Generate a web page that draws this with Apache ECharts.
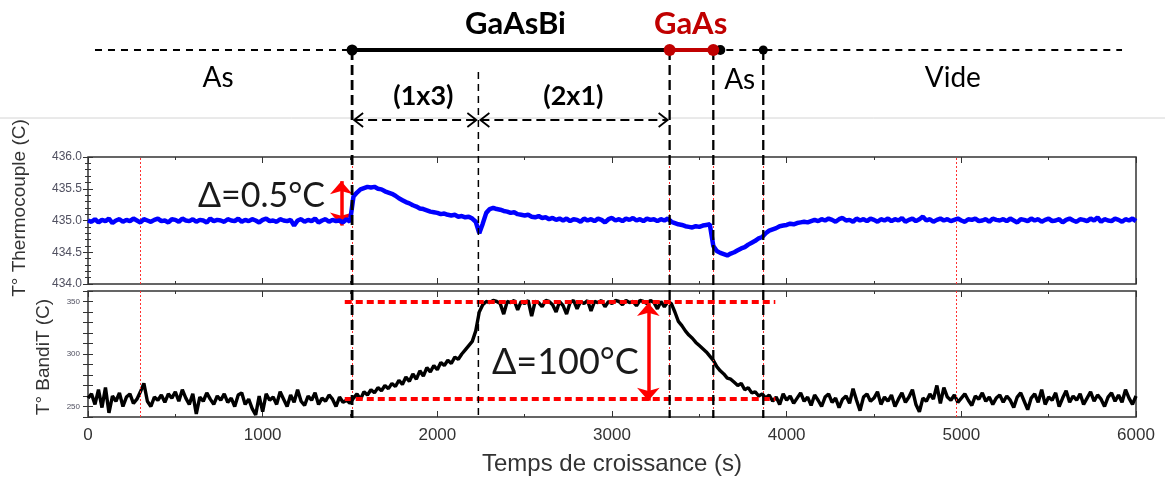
<!DOCTYPE html>
<html><head><meta charset="utf-8">
<script src="https://cdn.jsdelivr.net/npm/echarts@6/dist/echarts.min.js"></script>
<style>html,body{margin:0;padding:0;background:#fff}#c{width:1165px;height:477px}</style>
</head><body><div id="c"></div>
<script>
// ---------- data ----------
const TIME_STEP = 20; // s between samples, first sample at t = 0
const thermocouple = [
435.00,434.98,435.02,434.97,435.01,434.99,435.03,434.96,435.00,435.02,
434.98,435.01,434.99,435.03,435.00,434.97,435.02,435.00,434.98,435.01,
435.03,434.99,435.00,434.97,435.02,435.01,434.98,435.03,435.00,434.99,
435.02,434.98,435.01,435.00,434.97,435.03,434.99,435.01,435.00,434.98,
435.02,435.00,434.99,435.03,434.98,435.01,434.99,435.02,435.00,434.97,
435.01,435.03,434.99,435.00,434.98,435.02,435.00,434.99,435.01,434.92,
435.00,435.02,434.98,435.01,434.99,435.03,434.97,435.00,435.02,434.98,
435.01,434.99,435.00,434.97,435.02,434.98,
435.38,435.44,435.49,435.51,435.53,435.52,435.53,435.50,435.49,435.46,
435.44,435.42,435.39,435.35,435.32,435.29,435.27,435.24,435.22,435.19,
435.18,435.16,435.14,435.13,435.12,435.10,435.11,435.09,435.08,435.09,
435.06,435.07,435.05,435.06,435.03,434.98,
434.80,434.95,435.12,435.18,435.20,435.18,435.17,435.15,435.14,435.12,
435.13,435.10,435.09,435.08,435.09,435.06,435.05,435.07,435.04,435.05,
435.02,435.04,435.01,435.03,435.00,
435.03,434.99,435.02,435.01,434.98,435.03,435.00,435.02,434.99,435.03,
435.01,434.97,435.02,435.04,435.00,435.02,434.99,435.03,435.01,435.04,
435.00,435.02,434.99,435.03,435.01,435.02,434.99,435.02,435.00,435.03,
434.98,434.96,434.94,434.93,434.91,434.90,434.89,434.91,434.90,434.92,
434.93,434.94,
434.60,434.52,434.49,434.47,434.45,434.48,434.50,434.53,434.56,434.58,
434.62,434.65,434.68,434.72,434.74,
434.80,434.84,434.86,434.88,434.91,434.92,434.93,434.95,434.94,434.96,
434.97,434.98,434.97,434.99,435.01,434.99,435.02,
435.00,435.03,435.01,434.98,435.02,435.04,435.00,435.01,434.98,435.03,
435.00,435.02,434.99,435.03,435.01,434.98,435.02,435.00,435.03,434.99,
435.02,435.00,435.04,434.98,435.01,435.03,434.99,435.02,435.06,435.00,
435.02,434.98,435.01,435.03,435.00,435.02,434.99,435.01,435.03,435.00,
434.98,435.02,435.01,435.03,434.99,435.00,435.02,434.98,435.03,435.01,
435.00,435.02,434.99,435.03,435.00,434.97,435.02,435.01,434.99,435.03,
435.00,435.02,434.98,435.01,435.03,434.99,435.00,435.02,434.97,435.01,
435.03,435.00,434.98,435.02,435.01,434.99,435.03,435.00,435.05,434.98,
435.02,435.00,434.99,435.03,435.01,434.98,435.02,435.00,435.03,434.99
];
const bandit = [
258,262,252,266,249,268,244,260,255,263,
250,259,262,253,257,264,272,255,250,259,
256,261,254,262,258,264,255,266,258,252,
262,243,259,255,263,257,252,260,256,262,
254,258,250,261,263,252,257,248,242,260,
245,262,256,259,252,264,257,250,261,254,
266,255,251,260,256,263,252,258,255,261,
257,250,259,254,256,253,
258,262,257,264,261,266,263,268,265,270,
267,272,269,275,271,278,274,281,276,284,
279,287,283,289,285,292,289,294,291,297,
295,300,304,308,312,322,340,
347,350,349,351,350,348,338,350,349,351,
342,350,348,351,336,350,349,345,351,350,
347,340,350,346,338,349,351,343,350,348,
351,341,350,349,351,345,350,348,351,350,
347,351,349,350,346,351,350,348,351,349,
343,350,345,350,
348,340,331,327,322,318,315,311,308,305,
302,298,294,288,284,281,277,276,273,270,
272,266,268,263,264,260,262,258,261,
255,259,252,262,256,260,253,258,263,255,
259,251,261,256,250,259,262,254,258,249,
257,260,253,267,256,246,259,262,255,258,
264,252,259,255,261,250,257,263,254,259,
266,252,245,258,255,262,257,270,253,268,
259,256,261,254,258,262,256,251,260,257,
263,255,259,252,258,261,254,260,256,249,
259,263,255,247,258,262,254,266,252,259,
256,263,250,258,265,254,260,256,262,252,
258,264,255,261,257,250,259,263,255,261,
254,266,258,252,260
];
const banditTicks = [250, 300, 350];
const phaseTimes = [1512, 2235, 3330, 3580, 3866];   // phase boundaries (s)
const redMarkerTimes = [300, 1512, 3330, 3580, 3866, 4970];
const timelineSpan = [40, 5920];
const deltaThermo = [435.62, 434.92];  // Δ=0.5°C arrow ends
const deltaBandit = [350, 257];        // Δ=100°C reference levels
const deltaBanditArrow = [348.5, 255.5];

// ---------- chart ----------
const chart = echarts.init(document.getElementById('c'), null, {renderer: 'canvas'});
const thermoData = thermocouple.map((v, i) => [i * TIME_STEP, v]);
const banditData = bandit.map((v, i) => [i * TIME_STEP, v]);
const AXF = 'Liberation Sans, Arial, sans-serif';
const ANF = 'Lato, Open Sans, sans-serif';

function xAx(grid, pos, labels) {
  return {
    type: 'value', gridIndex: grid, position: pos, min: 0, max: 6000, interval: 1000,
    axisLine: {show: false},
    axisTick: {show: true, inside: true, length: 6, lineStyle: {color: '#333'}},
    minorTick: {show: true, splitNumber: 2, length: 3, lineStyle: {color: '#333'}},
    splitLine: {show: false},
    axisLabel: labels ? {show: true, fontSize: 17, color: '#333', fontFamily: AXF, margin: 10,
      formatter: v => String(v)} : {show: false}
  };
}
function yAx(grid, pos, min, max, interval, labelOpt, minorSplit) {
  return {
    type: 'value', gridIndex: grid, position: pos, min: min, max: max, interval: interval,
    axisLine: {show: false},
    axisTick: {show: true, inside: true, length: 5, lineStyle: {color: '#333'}},
    minorTick: {show: minorSplit > 0, splitNumber: minorSplit || 5, length: 3, lineStyle: {color: '#333'}},
    splitLine: {show: false},
    axisLabel: labelOpt || {show: false}
  };
}

const redVert = redMarkerTimes.map(t => ({xAxis: t}));

chart.setOption({
  animation: false,
  backgroundColor: '#fff',
  grid: [
    {left: 88, right: 29, top: 157, height: 127, show: true, borderColor: '#333', borderWidth: 1.5, backgroundColor: 'transparent'},
    {left: 88, right: 29, top: 291, height: 127, show: true, borderColor: '#333', borderWidth: 1.5, backgroundColor: 'transparent'}
  ],
  xAxis: [xAx(0, 'bottom', false), xAx(0, 'top', false),
    Object.assign(xAx(1, 'bottom', true), {
      name: 'Temps de croissance (s)', nameLocation: 'middle', nameGap: 35,
      nameTextStyle: {fontSize: 24, color: '#333', fontFamily: AXF}
    }),
    xAx(1, 'top', false)],
  yAxis: [
    yAx(0, 'left', 434, 436, 0.5, {show: true, fontSize: 12, color: '#505060', fontFamily: AXF, margin: 6,
      formatter: v => v.toFixed(1)}, 5),
    yAx(0, 'right', 434, 436, 0.5, null, 5),
    yAx(1, 'left', 240, 360, 10, {show: true, fontSize: 8, color: '#505060', fontFamily: AXF, margin: 8,
      formatter: v => banditTicks.includes(v) ? String(v) : ''}, 0),
    yAx(1, 'right', 240, 360, 10, null, 0)
  ],
  series: [
    {
      type: 'line', name: 'thermocouple', xAxisIndex: 0, yAxisIndex: 0, data: thermoData,
      showSymbol: false, symbol: 'none', z: 3,
      lineStyle: {color: '#0000ff', width: 4.5},
      markLine: {
        silent: true, symbol: 'none', label: {show: false}, z: 2,
        lineStyle: {color: '#ff3030', width: 1, type: [2, 2]},
        data: redVert.concat([[
          {coord: [1450, deltaThermo[0]], symbol: 'arrow', symbolSize: [17, 13],
            lineStyle: {color: '#ff0000', width: 3.5, type: 'solid'}},
          {coord: [1450, deltaThermo[1]], symbol: 'arrow', symbolSize: [17, 13]}
        ]])
      }
    },
    {
      type: 'line', name: 'bandit', xAxisIndex: 2, yAxisIndex: 2, data: banditData,
      showSymbol: false, symbol: 'none', z: 3,
      lineStyle: {color: '#000', width: 3.4},
      markLine: {
        silent: true, symbol: 'none', label: {show: false}, z: 4,
        lineStyle: {color: '#ff3030', width: 1, type: [2, 2]},
        data: redVert.concat([
          [{coord: [1470, deltaBandit[0]], lineStyle: {color: '#ff0000', width: 4, type: [7, 4]}}, {coord: [3935, deltaBandit[0]]}],
          [{coord: [1470, deltaBandit[1]], lineStyle: {color: '#ff0000', width: 4, type: [7, 4]}}, {coord: [3935, deltaBandit[1]]}],
          [{coord: [3208, deltaBanditArrow[0]], symbol: 'arrow', symbolSize: [17, 13],
            lineStyle: {color: '#ff0000', width: 3.5, type: 'solid'}},
           {coord: [3208, deltaBanditArrow[1]], symbol: 'arrow', symbolSize: [17, 13]}]
        ])
      }
    }
  ]
});

// ---------- annotations (positioned through the x scale) ----------
const X = t => chart.convertToPixel({xAxisIndex: 0}, t);
const Yt = v => chart.convertToPixel({yAxisIndex: 0}, v);
const Yb = v => chart.convertToPixel({yAxisIndex: 2}, v);
const TL_Y = 50, ARR_Y = 120, BOTTOM = 418;
const g = [];
const line = (x1, y1, x2, y2, stroke, w, dash, z) => g.push({type: 'line', z: z || 50, silent: true,
  shape: {x1, y1, x2, y2}, style: {stroke, lineWidth: w, lineDash: dash || null}});
const txt = (text, x, y, size, color, bold, align, rot) => g.push({type: 'text', z: 60, silent: true,
  x, y, rotation: rot || 0,
  style: {text, fontSize: size, fontFamily: rot ? AXF : ANF, fontWeight: bold ? 'bold' : 'normal', fill: color,
    align: align || 'center', verticalAlign: 'middle'}});
const dot = (x, r, fill) => g.push({type: 'circle', z: 55, silent: true, shape: {cx: x, cy: TL_Y, r}, style: {fill}});

// light separator line
line(0, 118, 1165, 118, '#d4d4d4', 1, null, 1);

// timeline
line(X(timelineSpan[0]), TL_Y, X(phaseTimes[0]), TL_Y, '#000', 1.8, [7, 6]);
line(X(phaseTimes[0]), TL_Y, X(phaseTimes[2]), TL_Y, '#000', 4);
line(X(phaseTimes[2]), TL_Y, X(phaseTimes[3]), TL_Y, '#c00000', 4);
line(X(phaseTimes[3]), TL_Y, X(timelineSpan[1]), TL_Y, '#000', 1.8, [7, 6]);

// vertical dashed phase lines
line(X(phaseTimes[0]), TL_Y, X(phaseTimes[0]), BOTTOM, '#000', 2.8, [10, 5]);
line(X(phaseTimes[1]), 72, X(phaseTimes[1]), BOTTOM, '#000', 1.5, [7, 5]);
line(X(phaseTimes[2]), TL_Y, X(phaseTimes[2]), BOTTOM, '#000', 2.3, [10, 5]);
line(X(phaseTimes[3]), TL_Y, X(phaseTimes[3]), BOTTOM, '#000', 2.3, [10, 5]);
line(X(phaseTimes[4]), TL_Y, X(phaseTimes[4]), BOTTOM, '#000', 2.3, [10, 5]);

dot(X(phaseTimes[0]), 5.5, '#000');
dot(X(phaseTimes[3]) + 7, 5, '#000');
dot(X(phaseTimes[2]), 6, '#c00000');
dot(X(phaseTimes[3]), 6, '#c00000');
dot(X(phaseTimes[4]), 4.5, '#000');

// double arrows for reconstructions
function dblArrow(x1, x2, y) {
  line(x1 + 2, y, x2 - 2, y, '#000', 1.8, [9, 5]);
  g.push({type: 'polyline', z: 55, silent: true, shape: {points: [[x1 + 11, y - 7], [x1 + 2, y], [x1 + 11, y + 7]]},
    style: {stroke: '#000', lineWidth: 1.8, fill: null}});
  g.push({type: 'polyline', z: 55, silent: true, shape: {points: [[x2 - 11, y - 7], [x2 - 2, y], [x2 - 11, y + 7]]},
    style: {stroke: '#000', lineWidth: 1.8, fill: null}});
}
dblArrow(X(phaseTimes[0]), X(phaseTimes[1]), ARR_Y);
dblArrow(X(phaseTimes[1]), X(phaseTimes[2]), ARR_Y);

// labels
txt('GaAsBi', X(2447), 24, 31, '#000', true);
txt('GaAs', X(3450), 24, 31, '#c00000', true);
txt('As', X(745), 78, 28, '#000', false);
txt('(1x3)', X(1920), 96, 27, '#000', true);
txt('(2x1)', X(2779), 96, 27, '#000', true);
txt('As', X(3731), 80, 28, '#000', false);
txt('Vide', X(4951), 78, 28, '#000', false);

// delta annotations
txt('\u0394=0.5\u00b0C', 325, Yt(435.38), 34, '#1a1a1a', false, 'right');
txt('\u0394=100\u00b0C', X(2733), Yb(292), 36, '#1a1a1a', false, 'center');

// y-axis titles
txt('T\u00b0 Thermocouple (C)', 20, 208, 19, '#333', false, 'center', Math.PI / 2);
txt('T\u00b0 BandiT (C)', 44, 357, 19, '#333', false, 'center', Math.PI / 2);

chart.setOption({graphic: g});
</script>
</body></html>
